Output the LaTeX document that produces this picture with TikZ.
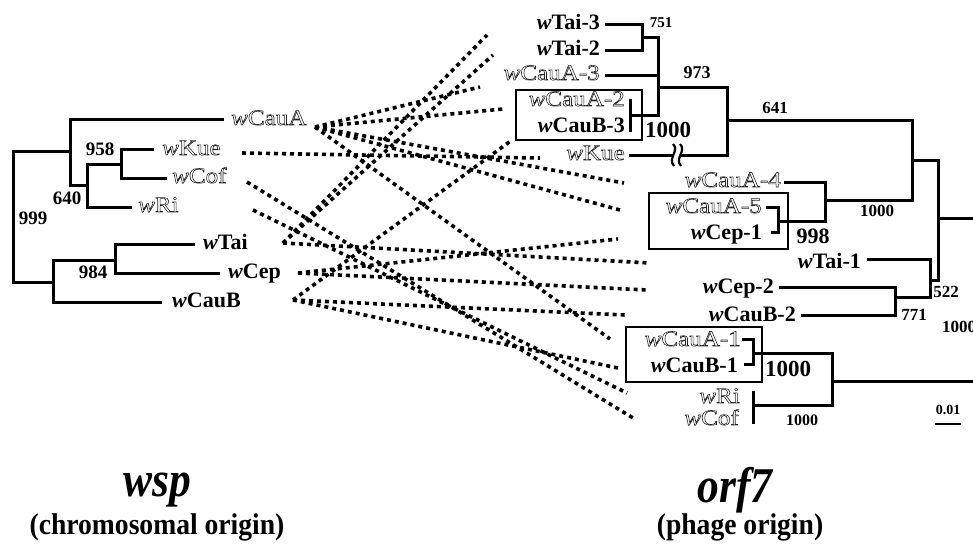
\documentclass[tikz,border=0pt]{standalone}
\usepackage{fontspec}
\setmainfont{Liberation Serif}
\usepackage{graphicx}
\newcommand{\wb}[1]{\textit{w}#1}
\newcommand{\wo}[1]{\scalebox{1.14}[1]{\special{pdf:literal direct 1 Tr 0.55 w 0.15 G}\mdseries\textit{w}#1\special{pdf:literal direct 0 Tr 0 G}}}
\begin{document}
\begin{tikzpicture}[x=1pt,y=-1pt,
  br/.style={line width=3pt, line cap=rect},
  bx/.style={line width=1.6pt},
  cx/.style={line width=3.6pt, dash pattern=on 4pt off 4pt},
  lab/.style={font=\fontsize{22}{22}\selectfont\bfseries, inner sep=0pt, text height=14pt, text depth=4pt},
  llab/.style={lab, anchor=west},
  rlab/.style={lab, anchor=east},
  bs/.style={font=\fontsize{#1}{#1}\selectfont\bfseries, inner sep=0pt},
  ttl/.style={font=\fontsize{50}{50}\selectfont\bfseries\itshape, inner sep=0pt, xscale=0.87},
  sub/.style={font=\fontsize{30}{30}\selectfont\bfseries, inner sep=0pt, xscale=0.92},
]
\useasboundingbox (0,0) rectangle (973,544);

% ---------------- left tree (wsp) ----------------
\draw[br] (13,151) -- (13,282);
\draw[br] (13,151) -- (70,151);
\draw[br] (70,119) -- (70,185);
\draw[br] (70,119) -- (222,119);
\draw[br] (70,185) -- (87,185);
\draw[br] (87,164) -- (87,207);
\draw[br] (87,164) -- (121,164);
\draw[br] (121,149) -- (121,178);
\draw[br] (121,149) -- (152,149);
\draw[br] (121,178) -- (165,178);
\draw[br] (87,207) -- (130,207);
\draw[br] (13,282) -- (53,282);
\draw[br] (53,260) -- (53,302);
\draw[br] (53,260) -- (115,260);
\draw[br] (115,244) -- (115,273);
\draw[br] (115,244) -- (193,244);
\draw[br] (115,273) -- (218,273);
\draw[br] (53,302) -- (160,302);

\node[llab] (LA) at (231,120) {\wo{CauA}};
\node[llab] (LK) at (162,150) {\wo{Kue}};
\node[llab] (LC) at (172,178) {\wo{Cof}};
\node[llab] (LR) at (138,207) {\wo{Ri}};
\node[llab] (LT) at (203,244) {\wb{Tai}};
\node[llab] (LE) at (228,273) {\wb{Cep}};
\node[llab] (LB) at (172,302) {\wb{CauB}};

\node[bs=19] (b958) at (100,149) {958};
\node[bs=19] (b640) at (67,198) {640};
\node[bs=19] (b999) at (33,218) {999};
\node[bs=19] (b984) at (93,272) {984};

% ---------------- right tree (orf7) ----------------
\draw[br] (606,24) -- (642,24);
\draw[br] (606,50) -- (642,50);
\draw[br] (642,24) -- (642,50);
\draw[br] (642,37) -- (658,37);
\draw[br] (606,75) -- (658,75);
\draw[br] (658,37) -- (658,115);
\draw[br] (630,100) -- (630,130);
\draw[br] (630,115) -- (658,115);
\draw[br] (658,87) -- (727,87);
\draw[br] (727,87) -- (727,155);
\draw[br] (630,155) -- (672,155);
\draw[br] (682,155) -- (727,155);
\draw[line width=2.2pt] (673,144) .. controls (680,151) and (667,158) .. (674,166);
\draw[line width=2.2pt] (680,144) .. controls (687,151) and (674,158) .. (681,166);
\draw[br] (727,120) -- (912,120);
\draw[br] (912,120) -- (912,200);
\draw[br] (825,200) -- (912,200);
\draw[br] (912,160) -- (938,160);
\draw[br] (785,182) -- (825,182);
\draw[br] (825,182) -- (825,221);
\draw[br] (778,221) -- (825,221);
\draw[br] (767,207) -- (778,207) -- (778,232) -- (772,232);
\draw[br] (938,160) -- (938,280);
\draw[br] (938,218) -- (990,218);
\draw[br] (930,280) -- (938,280);
\draw[br] (930,259) -- (930,297);
\draw[br] (868,259) -- (930,259);
\draw[br] (895,297) -- (930,297);
\draw[br] (895,287) -- (895,315);
\draw[br] (780,287) -- (895,287);
\draw[br] (802,315) -- (895,315);
\draw[br] (832,381) -- (990,381);
\draw[br] (832,353) -- (832,405);
\draw[br] (753,353) -- (832,353);
\draw[br] (743,339) -- (753,339) -- (753,364) -- (745,364);
\draw[br] (753,405) -- (832,405);
\draw[br] (753,392) -- (753,422);

\draw[bx] (516,90) rectangle (642,140);
\draw[bx] (649,193) rectangle (788,249);
\draw[bx] (626,327) rectangle (762,382);

\node[rlab] (RT3) at (600,24) {\wb{Tai-3}};
\node[rlab] (RT2) at (600,50) {\wb{Tai-2}};
\node[rlab] (RA3) at (600,75) {\wo{CauA-3}};
\node[rlab] (RA2) at (625,101) {\wo{CauA-2}};
\node[rlab] (RB3) at (625,127) {\wb{CauB-3}};
\node[rlab] (RK) at (625,155) {\wo{Kue}};
\node[rlab] (RA4) at (781,182) {\wo{CauA-4}};
\node[rlab] (RA5) at (762,208) {\wo{CauA-5}};
\node[rlab] (RE1) at (762,234) {\wb{Cep-1}};
\node[rlab] (RT1) at (861,263) {\wb{Tai-1}};
\node[rlab] (RE2) at (774,288) {\wb{Cep-2}};
\node[rlab] (RB2) at (796,316) {\wb{CauB-2}};
\node[rlab] (RA1) at (741,341) {\wo{CauA-1}};
\node[rlab] (RB1) at (738,367) {\wb{CauB-1}};
\node[rlab] (RR) at (740,398) {\wo{Ri}};
\node[rlab] (RC) at (739,420) {\wo{Cof}};

\node[bs=15] (b751) at (661,23) {751};
\node[bs=18] (b973) at (697,73) {973};
\node[bs=23] (b1000a) at (668,130) {1000};
\node[bs=17] (b641) at (775,108) {641};
\node[bs=17] (b1000b) at (877,211) {1000};
\node[bs=22] (b998) at (813,236) {998};
\node[bs=17] (b522) at (946,292) {522};
\node[bs=17] (b771) at (914,315) {771};
\node[bs=17,anchor=west] (b1000r) at (942,327) {1000};
\node[bs=23] (b1000c) at (788,369) {1000};
\node[bs=16] (b1000d) at (802,420) {1000};
\node[bs=14] (scl) at (948,410) {0.01};
\draw[line width=2pt] (935,424) -- (961,424);

% ---------------- connectors ----------------
\coordinate (dA) at (315,127);
\coordinate (dK) at (242,153);
\coordinate (dC) at (247,182);
\coordinate (dR) at (253,210);
\coordinate (dT) at (283,243);
\coordinate (dE) at (298,273);
\coordinate (dB) at (293,300);
\coordinate (eT3) at (487,35);
\coordinate (eT2) at (493,55);
\coordinate (eA3) at (480,87);
\coordinate (eA2) at (503,109);
\coordinate (eB3) at (512,140);
\coordinate (eK) at (540,158);
\coordinate (eA4) at (624,183);
\coordinate (eA5) at (620,210);
\coordinate (eE1) at (618,239);
\coordinate (eT1) at (650,263);
\coordinate (eE2) at (647,290);
\coordinate (eB2) at (625,315);
\coordinate (eA1) at (610,339);
\coordinate (eB1) at (618,368);
\coordinate (eR) at (627,393);
\coordinate (eC) at (633,418);

\draw[cx] (dT) -- (eT3);
\draw[cx] (dT) -- (eT2);
\draw[cx] (dT) -- (eT1);
\draw[cx] (dA) -- (eA3);
\draw[cx] (dA) -- (eA2);
\draw[cx] (dA) -- (eA4);
\draw[cx] (dA) -- (eA5);
\draw[cx] (dA) -- (eA1);
\draw[cx] (dB) -- (eB3);
\draw[cx] (dB) -- (eB2);
\draw[cx] (dB) -- (eB1);
\draw[cx] (dK) -- (eK);
\draw[cx] (dE) -- (eE1);
\draw[cx] (dE) -- (eE2);
\draw[cx] (dR) -- (eR);
\draw[cx] (dC) -- (eC);

% ---------------- titles ----------------
\node[ttl] (t1) at (157,490) {wsp};
\node[sub] (s1) at (157,527) {(chromosomal origin)};
\node[ttl] (t2) at (735,490) {orf7};
\node[sub] (s2) at (740,527) {(phage origin)};
\end{tikzpicture}
\end{document}
